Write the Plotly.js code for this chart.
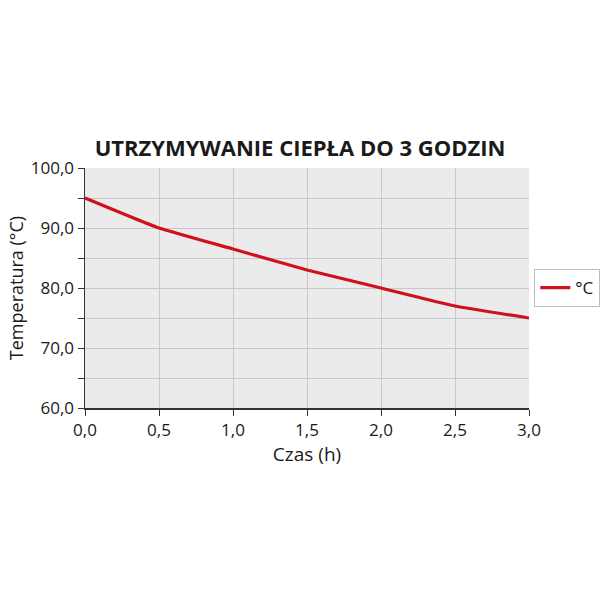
<!DOCTYPE html>
<html>
<head>
<meta charset="utf-8">
<script src="https://cdn.plot.ly/plotly-3.0.1.min.js"></script>
<style>html,body{margin:0;padding:0;background:#fff;}#chart{width:600px;height:600px;}</style>
</head>
<body>
<div id="chart"></div>
<script>
const hours = [0, 0.5, 1.0, 1.5, 2.0, 2.5, 3.0];
const temperature = [95, 90, 86.5, 83, 80, 77, 75];
const seriesName = '°C';
const chartTitle = 'UTRZYMYWANIE CIEPŁA DO 3 GODZIN';
const xTitle = 'Czas (h)';
const yTitle = 'Temperatura (°C)';

const trace = {
  x: hours, y: temperature, name: seriesName, type: 'scatter', mode: 'lines',
  line: {color: '#d0111b', width: 3.2, shape: 'spline', smoothing: 0.4}
};

const layout = {
  width: 600, height: 600,
  margin: {l: 85, r: 71, t: 168, b: 192, autoexpand: false},
  paper_bgcolor: '#ffffff', plot_bgcolor: '#ebebeb',
  separators: ', ',
  font: {family: 'Open Sans, sans-serif', color: '#1a1a1a', size: 17},
  title: {text: '<b>' + chartTitle + '</b>', x: 0.5, xanchor: 'center', y: 0.753, yanchor: 'middle',
          font: {size: 22, color: '#1a1a1a', family: 'Open Sans, sans-serif'}},
  showlegend: true,
  legend: {x: 1.012, xanchor: 'left', y: 0.5, yanchor: 'middle', bordercolor: '#bdbdbd', borderwidth: 1,
           font: {size: 17}, bgcolor: '#ffffff', itemwidth: 30, tracegroupgap: 0},
  xaxis: {range: [0, 3], dtick: 0.5, tick0: 0, tickformat: '.1f', showgrid: true, gridcolor: '#c8c8c8', gridwidth: 1,
          showline: true, linecolor: '#333', linewidth: 1.5, ticks: 'outside', ticklen: 6, tickcolor: '#333',
          zeroline: false, tickfont: {size: 17},
          title: {text: xTitle, font: {size: 19}, standoff: 4}},
  yaxis: {range: [60, 100], dtick: 10, tick0: 60, tickformat: '.1f', showgrid: true, gridcolor: '#c8c8c8', gridwidth: 1,
          showline: true, linecolor: '#333', linewidth: 1.5, ticks: 'outside', ticklen: 6, tickcolor: '#333',
          zeroline: false, tickfont: {size: 17},
          minor: {dtick: 5, showgrid: true, gridcolor: '#c8c8c8', ticks: 'outside', ticklen: 6, tickcolor: '#333'},
          title: {text: yTitle, font: {size: 18}, standoff: 2}}
};

Plotly.newPlot('chart', [trace], layout, {displayModeBar: false, staticPlot: true});
</script>
</body>
</html>
